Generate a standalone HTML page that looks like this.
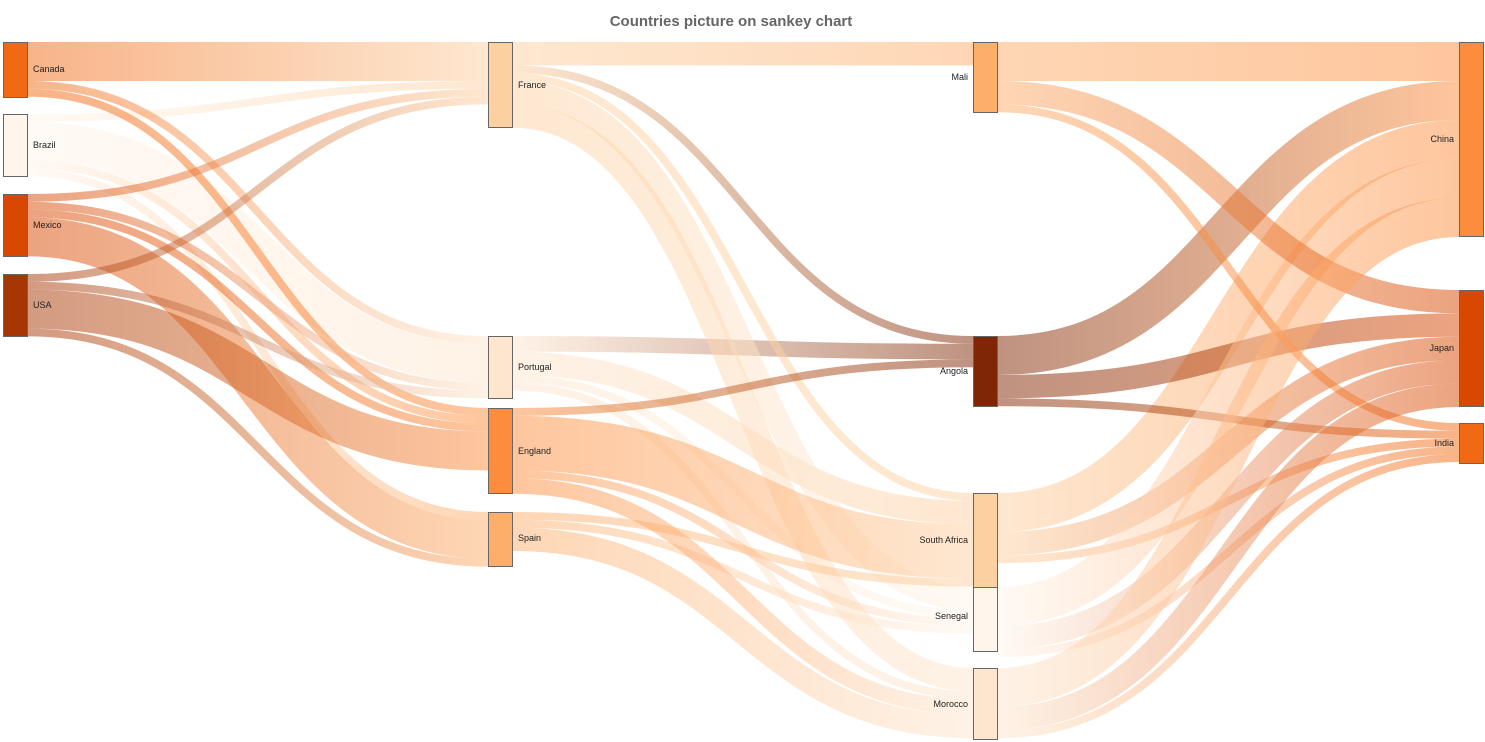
<!DOCTYPE html>
<html><head><meta charset="utf-8"><style>
html,body{margin:0;padding:0;background:#fff;}
svg{display:block;}
text{font-family:"Liberation Sans",sans-serif;}
</style></head><body>
<svg id="s" width="1485" height="742" xmlns="http://www.w3.org/2000/svg">
<defs id="d"></defs>
<g id="links"></g>
<g id="nodes"></g>
<text x="731" y="26" text-anchor="middle" font-size="15" font-weight="bold" fill="#666">Countries picture on sankey chart</text>
<g font-size="9" fill="#222">
<text x="33" y="72">Canada</text>
<text x="33" y="148">Brazil</text>
<text x="33" y="228">Mexico</text>
<text x="33" y="308">USA</text>
<text x="518" y="88">France</text>
<text x="518" y="370">Portugal</text>
<text x="518" y="454">England</text>
<text x="518" y="541">Spain</text>
<text x="968" y="80" text-anchor="end">Mali</text>
<text x="968" y="374" text-anchor="end">Angola</text>
<text x="968" y="543" text-anchor="end">South Africa</text>
<text x="968" y="619" text-anchor="end">Senegal</text>
<text x="968" y="707" text-anchor="end">Morocco</text>
<text x="1454" y="142" text-anchor="end">China</text>
<text x="1454" y="351" text-anchor="end">Japan</text>
<text x="1454" y="446" text-anchor="end">India</text>
</g>
</svg>
<script>
var N={
Canada:[3,42,55,'#f16913'],Brazil:[3,114,62,'#fff5eb'],Mexico:[3,194,62,'#d94801'],USA:[3,274,62,'#a63603'],
France:[488,42,85,'#fdd0a2'],Portugal:[488,336,62,'#fee6ce'],England:[488,408,85,'#fd8d3c'],Spain:[488,512,54,'#fdae6b'],
Mali:[973,42,70,'#fdae6b'],Angola:[973,336,70,'#7f2704'],'South Africa':[973,493,94,'#fdd0a2'],Senegal:[973,587,64,'#fff5eb'],Morocco:[973,668,71,'#fee6ce'],
China:[1459,42,194,'#fd8d3c'],Japan:[1459,290,116,'#d94801'],India:[1459,423,40,'#f16913']};
var L=[['Brazil','Portugal',5],['Brazil','France',1],['Brazil','Spain',1],['Brazil','England',1],['Canada','Portugal',1],['Canada','France',5],['Canada','England',1],['Mexico','Portugal',1],['Mexico','France',1],['Mexico','Spain',5],['Mexico','England',1],['USA','Portugal',1],['USA','France',1],['USA','Spain',1],['USA','England',5],['Portugal','Angola',2],['Portugal','Senegal',1],['Portugal','Morocco',1],['Portugal','South Africa',3],['France','Angola',1],['France','Senegal',3],['France','Mali',3],['France','Morocco',3],['France','South Africa',1],['Spain','Senegal',1],['Spain','Morocco',3],['Spain','South Africa',1],['England','Angola',1],['England','Senegal',1],['England','Morocco',2],['England','South Africa',7],['South Africa','China',5],['South Africa','India',1],['South Africa','Japan',3],['Angola','China',5],['Angola','India',1],['Angola','Japan',3],['Senegal','China',5],['Senegal','India',1],['Senegal','Japan',3],['Mali','China',5],['Mali','India',1],['Mali','Japan',3],['Morocco','China',5],['Morocco','India',1],['Morocco','Japan',3]];
var k=7.8,ns='http://www.w3.org/2000/svg';
var so={},ti={};
for(var n in N){so[n]=N[n][1];ti[n]=N[n][1];}
var out={},inn={};
L.forEach(function(l){(out[l[0]]=out[l[0]]||[]).push(l);(inn[l[1]]=inn[l[1]]||[]).push(l);});
for(var n in out)out[n].sort(function(a,b){return N[a[1]][1]-N[b[1]][1];});
for(var n in inn)inn[n].sort(function(a,b){return N[a[0]][1]-N[b[0]][1];});
L.forEach(function(l){l.w=l[2]*k;});
for(var n in out)out[n].forEach(function(l){l.sy=so[n]+l.w/2;so[n]+=l.w;});
for(var n in inn)inn[n].forEach(function(l){l.ty=ti[n]+l.w/2;ti[n]+=l.w;});
var d=document.getElementById('d'),lg=document.getElementById('links'),ng=document.getElementById('nodes');
L.forEach(function(l,i){
 var x0=N[l[0]][0]+25,x1=N[l[1]][0],xm=(x0+x1)/2;
 var g=document.createElementNS(ns,'linearGradient');g.setAttribute('id','g'+i);g.setAttribute('gradientUnits','userSpaceOnUse');
 g.setAttribute('x1',x0);g.setAttribute('x2',x1);g.setAttribute('y1',0);g.setAttribute('y2',0);
 var s1=document.createElementNS(ns,'stop');s1.setAttribute('offset','0');s1.setAttribute('stop-color',N[l[0]][3]);
 var s2=document.createElementNS(ns,'stop');s2.setAttribute('offset','1');s2.setAttribute('stop-color',N[l[1]][3]);
 g.appendChild(s1);g.appendChild(s2);d.appendChild(g);
 var p=document.createElementNS(ns,'path');
 p.setAttribute('d','M'+x0+','+l.sy+'C'+xm+','+l.sy+' '+xm+','+l.ty+' '+x1+','+l.ty);
 p.setAttribute('stroke','url(#g'+i+')');p.setAttribute('stroke-width',l.w);p.setAttribute('fill','none');p.setAttribute('stroke-opacity','0.5');
 lg.appendChild(p);
});
for(var n in N){var r=document.createElementNS(ns,'rect');r.setAttribute('x',N[n][0]+0.5);r.setAttribute('y',N[n][1]+0.5);r.setAttribute('width',24);r.setAttribute('height',N[n][2]);
 r.setAttribute('fill',N[n][3]);r.setAttribute('stroke','#666');r.setAttribute('stroke-width','1');ng.appendChild(r);}
</script>
</body></html>
